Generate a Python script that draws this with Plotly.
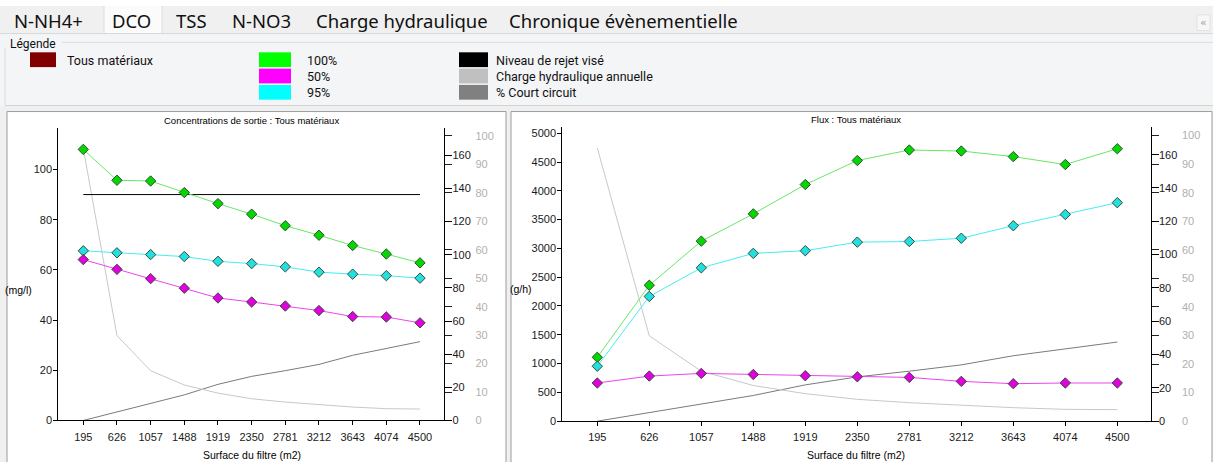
import plotly.graph_objects as go

W, H = 1213, 462

# ---------------- data ----------------
categories = ["195", "626", "1057", "1488", "1919", "2350", "2781", "3212", "3643", "4074", "4500"]

conc_100 = [108.0, 95.7, 95.4, 90.8, 86.4, 82.2, 77.6, 73.8, 69.7, 66.3, 62.8]
conc_95 = [67.6, 66.8, 66.1, 65.3, 63.4, 62.5, 61.2, 59.1, 58.3, 57.7, 56.7]
conc_50 = [64.1, 60.2, 56.5, 52.7, 48.8, 47.2, 45.6, 43.8, 41.4, 41.2, 38.9]
niveau_rejet = 90

flux_100 = [1109, 2360, 3126, 3600, 4109, 4526, 4709, 4691, 4594, 4457, 4731]
flux_95 = [954, 2166, 2663, 2914, 2960, 3109, 3120, 3177, 3394, 3589, 3794]
flux_50 = [663, 783, 829, 811, 789, 771, 760, 691, 651, 663, 663]

charge_hydraulique = [164, 51.2, 30.0, 21.4, 16.5, 13.1, 11.1, 9.5, 8.1, 7.1, 6.9]
court_circuit = [0, 3.0, 6.1, 9.0, 12.7, 15.5, 17.5, 19.7, 22.9, 25.2, 27.7]

tabs = ["N-NH4+", "DCO", "TSS", "N-NO3", "Charge hydraulique", "Chronique évènementielle"]
legend_items = [
    ("Tous matériaux", "#800000"),
    ("100%", "#00ff00"), ("50%", "#ff00ff"), ("95%", "#00ffff"),
    ("Niveau de rejet visé", "#000000"), ("Charge hydraulique annuelle", "#c0c0c0"),
    ("% Court circuit", "#808080"),
]

# ---------------- style ----------------
CF = "Liberation Sans Narrow, Arial Narrow, Liberation Sans, sans-serif"
TICKF = dict(family=CF, size=11, color="#1a1a1a")
GRAYF = dict(family=CF, size=11, color="#b0b0b0")
C100_L, C100_M = "#66e866", "#00d800"
C95_L, C95_M = "#44eeee", "#22e0e0"
C50_L, C50_M = "#ee44ee", "#e000e0"
MK_LINE = dict(color="#3a4a3a", width=1)


def px(x):
    return x / W


def py(y):
    return 1 - y / H


fig = go.Figure()


def add_chart(xa, ybase, yblack, yval, vals, show_rejet):
    # gray curves first (behind)
    fig.add_trace(go.Scatter(x=categories, y=court_circuit, mode="lines",
                             line=dict(color="#7a7a7a", width=1),
                             xaxis=xa, yaxis=ybase, showlegend=False, hoverinfo="skip"))
    fig.add_trace(go.Scatter(x=categories, y=charge_hydraulique, mode="lines",
                             line=dict(color="#c8c8c8", width=1),
                             xaxis=xa, yaxis=yblack, showlegend=False, hoverinfo="skip"))
    if show_rejet:
        fig.add_trace(go.Scatter(x=categories, y=[niveau_rejet] * len(categories), mode="lines",
                                 line=dict(color="#000000", width=1),
                                 xaxis=xa, yaxis=yval, showlegend=False, hoverinfo="skip"))
    v100, v95, v50 = vals
    for v, lc, mc in [(v100, C100_L, C100_M), (v95, C95_L, C95_M), (v50, C50_L, C50_M)]:
        fig.add_trace(go.Scatter(x=categories, y=v, mode="lines+markers",
                                 line=dict(color=lc, width=1),
                                 marker=dict(symbol="diamond", size=8, color=mc, line=MK_LINE),
                                 xaxis=xa, yaxis=yval, showlegend=False))


add_chart("x", "y", "y2", "y3", (conc_100, conc_95, conc_50), True)
add_chart("x2", "y4", "y5", "y6", (flux_100, flux_95, flux_50), False)


def xaxis_cfg(domain, rng, anchor):
    return dict(domain=domain, range=rng, type="category", anchor=anchor,
                showline=True, linecolor="#000", linewidth=1, ticks="outside", ticklen=4,
                tickcolor="#000", showgrid=False, zeroline=False, tickfont=TICKF, fixedrange=True,
                ticklabelstandoff=2)


def gray_axis(domain, rng, anchor):
    return dict(domain=domain, range=rng, anchor=anchor, side="right", dtick=10, tick0=0,
                ticks="outside", ticklen=7, tickcolor="#222", showline=False, showgrid=False,
                zeroline=False, tickfont=GRAYF, ticklabelstandoff=21, fixedrange=True)


def black_axis(rng, anchor, over):
    return dict(range=rng, anchor=anchor, overlaying=over, side="right", dtick=20, tick0=0,
                ticks="outside", ticklen=7, tickcolor="#000", showline=True, linecolor="#000",
                linewidth=1, showgrid=False, zeroline=False, tickfont=TICKF, fixedrange=True,
                ticklabelstandoff=-2)


def value_axis(rng, dtick, anchor, over):
    return dict(range=rng, anchor=anchor, overlaying=over, side="left", dtick=dtick, tick0=0,
                ticks="outside", ticklen=4, tickcolor="#000", showline=True, linecolor="#000",
                linewidth=1, showgrid=False, zeroline=False, tickfont=TICKF, fixedrange=True,
                ticklabelstandoff=-1)


L_dom_x = [px(58.3), px(444.3)]
L_dom_y = [py(426), py(130)]
R_dom_x = [px(562.3), px(1150.7)]
R_dom_y = [py(426.7), py(129)]

fig.update_layout(
    xaxis=xaxis_cfg(L_dom_x, [-0.7425, 10.722], "y"),
    yaxis=gray_axis(L_dom_y, [0, 102.67], "x"),
    yaxis2=black_axis([0, 176.25], "x", "y"),
    yaxis3=value_axis([0, 116.4], 20, "x", "y"),
    xaxis2=xaxis_cfg(R_dom_x, [-0.673, 10.642], "y4"),
    yaxis4=gray_axis(R_dom_y, [0, 102.87], "x2"),
    yaxis5=black_axis([0, 176.4], "x2", "y4"),
    yaxis6=value_axis([0, 5102.8], 500, "x2", "y4"),
)

# ---------------- UI chrome (shapes) ----------------
shapes = []


def rect(x0, y0, x1, y1, fill, line=None, lw=1):
    shapes.append(dict(type="rect", xref="paper", yref="paper",
                       x0=px(x0), x1=px(x1), y0=py(y1), y1=py(y0),
                       fillcolor=fill, line=dict(color=line or fill, width=lw if line else 0),
                       layer="below"))


def hline(x0, x1, y, color, lw=1):
    shapes.append(dict(type="line", xref="paper", yref="paper", x0=px(x0), x1=px(x1),
                       y0=py(y), y1=py(y), line=dict(color=color, width=lw), layer="below"))


def vline(x, y0, y1, color, lw=1):
    shapes.append(dict(type="line", xref="paper", yref="paper", x0=px(x), x1=px(x),
                       y0=py(y0), y1=py(y1), line=dict(color=color, width=lw), layer="below"))


rect(0, 0, W, 6, "#ffffff")
rect(104, 6, 162, 34, "#fbfbfb")
vline(104, 6, 34, "#dcdcdc")
vline(162, 6, 34, "#dcdcdc")
rect(0, 34, W, 108, "#f4f5f7")
hline(0, W, 34, "#d8d8d8")
hline(62, W, 43, "#dcdcdc")
vline(5, 48, 107, "#dcdcdc")
hline(5, W, 107, "#cfcfcf")
rect(1197, 15, 1210, 31, "#f7f7f7", "#e2e2e2")
rect(7, 113, 506, 475, "#ffffff", "#9c9c9c")
rect(511, 113, 1212, 475, "#ffffff", "#9c9c9c")

annotations = []


def text(x, y, s, size, color="#000", family=CF, anchor="left"):
    annotations.append(dict(x=px(x), y=py(y), xref="paper", yref="paper", text=s, showarrow=False,
                            xanchor=anchor, yanchor="middle",
                            font=dict(family=family, size=size, color=color)))


# tabs
TABF = "Noto Sans, Open Sans, sans-serif"
tab_x = [13, 111, 175, 231, 315, 508]
for t, x in zip(tabs, tab_x):
    text(x - 1, 21, t, 18.5, "#111", TABF)
text(1203.5, 23, "«", 11, "#a0a0a0", "DejaVu Sans", "center")

# legend
LEGF = "Roboto, Liberation Sans, sans-serif"
text(8, 45, "Légende", 12, "#111", LEGF)
leg_pos = [(30, 56, 65, 0), (259, 291, 305, 0), (259, 291, 305, 1), (259, 291, 305, 2),
           (459, 488, 494, 0), (459, 488, 494, 1), (459, 488, 494, 2)]
for (name, col), (sx0, sx1, tx, row) in zip(legend_items, leg_pos):
    y0 = 53 + row * 16.5
    rect(sx0, y0, sx1, y0 + 15, col)
    text(tx, y0 + 8, name, 12.5, "#111", LEGF)

# chart texts
text(251, 122, "Concentrations de sortie : Tous matériaux", 9.5, anchor="center")
text(856, 121, "Flux : Tous matériaux", 9.5, anchor="center")
text(18, 294, "(mg/l)", 10.5, anchor="center")
text(521, 293, "(g/h)", 10.5, anchor="center")
text(252, 461, "Surface du filtre (m2)", 10.5, anchor="center")
text(856, 461, "Surface du filtre (m2)", 10.5, anchor="center")

fig.update_layout(
    width=W, height=H, margin=dict(l=0, r=0, t=0, b=0),
    paper_bgcolor="#f0f0f0", plot_bgcolor="rgba(0,0,0,0)",
    shapes=shapes, annotations=annotations, showlegend=False,
)

fig.write_html("out.html")
